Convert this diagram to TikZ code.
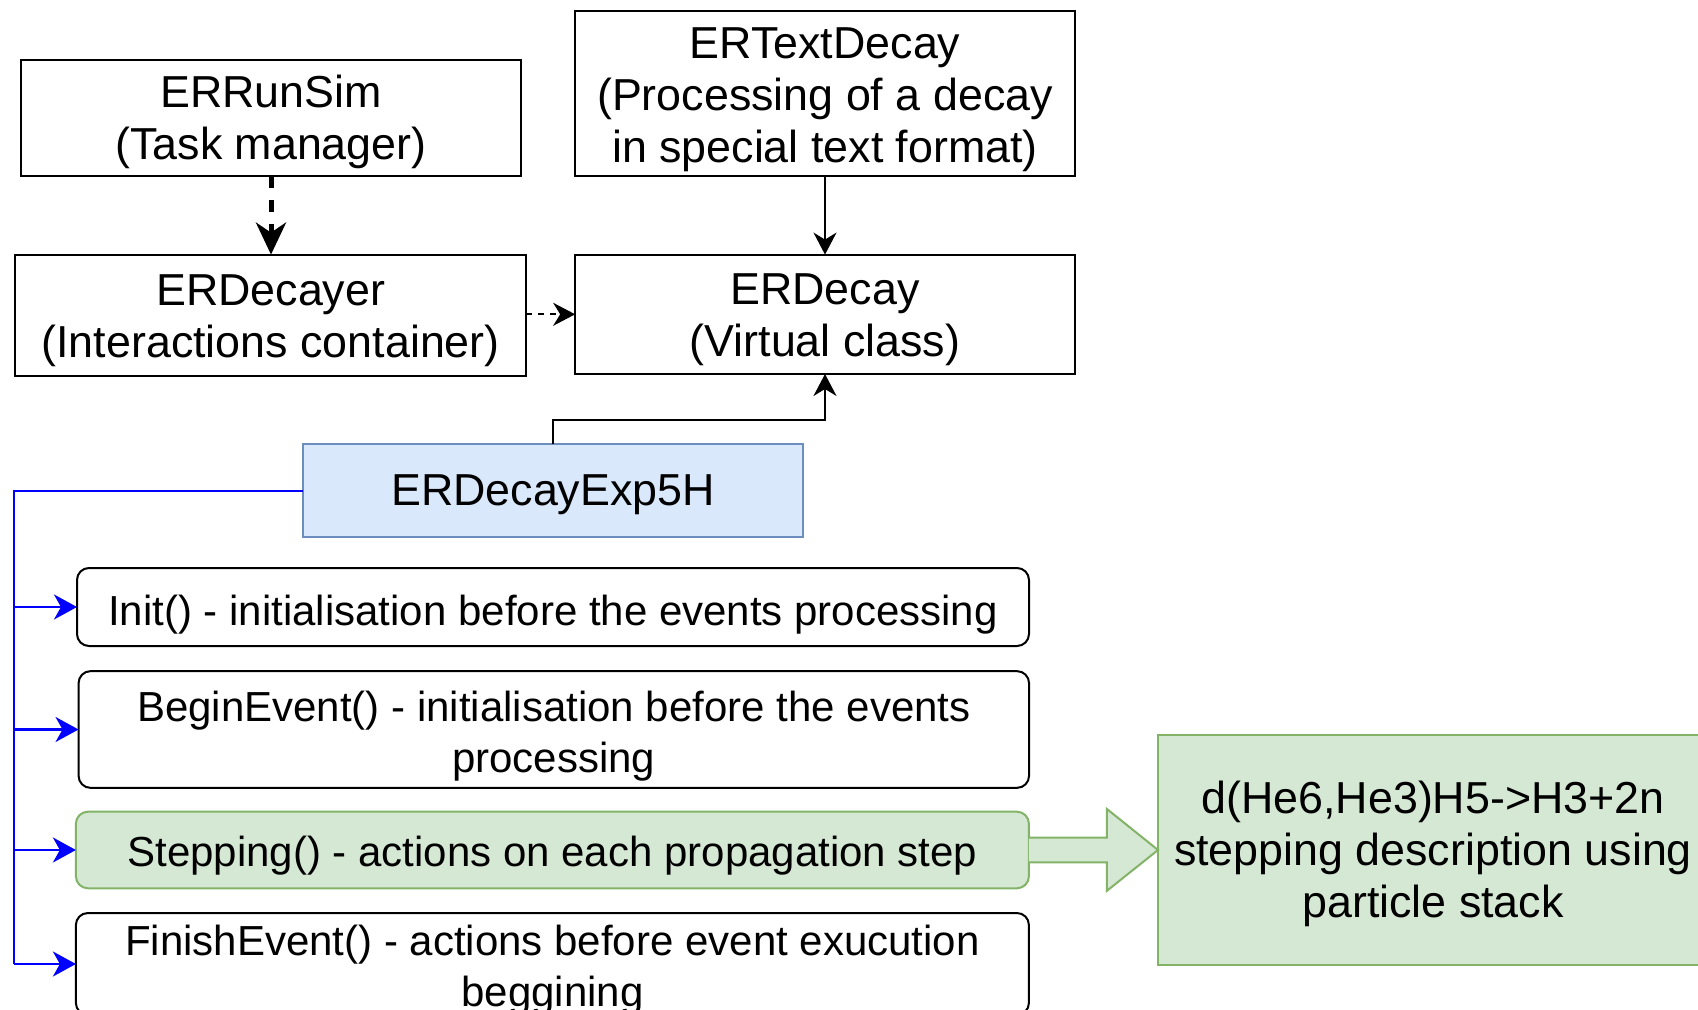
\documentclass[tikz,border=0pt]{standalone}
\usepackage{fontspec}
\setmainfont{Liberation Sans}
\usetikzlibrary{arrows.meta,calc}
\definecolor{bluefill}{HTML}{DAE8FC}
\definecolor{blueline}{HTML}{6C8EBF}
\definecolor{greenfill}{HTML}{D5E8D4}
\definecolor{greenline}{HTML}{82B366}
\definecolor{linkblue}{HTML}{0000FF}
% text block lowered by #1 inside its node, keeping the node's size
\newcommand\btext[2]{\raisebox{0pt}[\dimexpr\height+#1\relax][\dimexpr\depth-#1\relax]{\begin{tabular}{@{}c@{}}#2\end{tabular}}}
\tikzset{
  box/.style={draw=black, line width=1pt, inner sep=0pt, outer sep=0pt, align=center,
    font=\fontsize{22.4}{26}\selectfont},
  rbox/.style={box, rounded corners=6pt, font=\fontsize{21}{25.5}\selectfont},
  arr/.style={line width=1pt, -{Stealth[length=11pt,width=11.5pt,inset=3.5pt]}},
  thickdash/.style={line width=2.5pt, dash pattern=on 6pt off 6pt,
    -{Stealth[length=16pt,width=15pt,inset=5pt]}},
  thindash/.style={line width=1pt, dash pattern=on 3pt off 3pt,
    -{Stealth[length=11pt,width=11.5pt,inset=3.5pt]}},
  bl/.style={draw=linkblue, line width=1.2pt},
  barr/.style={bl, -{Stealth[length=11.5pt,width=12.5pt,inset=3.5pt]}},
}
\begin{document}
\begin{tikzpicture}[x=0.5pt,y=-0.5pt]
\useasboundingbox (0,0) rectangle (1698,1010);
\clip (0,0) rectangle (1698,1010);
\fill[white] (0,0) rectangle (1698,1010);

\node[box, minimum width=499.5*0.5pt, minimum height=116.4*0.5pt] (runsim) at (271,118.2)
  {\btext{2.7pt}{ERRunSim\\(Task manager)}};
\node[box, minimum width=499.7*0.5pt, minimum height=165.7*0.5pt] (textdecay) at (825,93.5)
  {\btext{3.1pt}{ERTextDecay\\(Processing of a decay\\in special text format)}};
\node[box, minimum width=510.6*0.5pt, minimum height=121.4*0.5pt] (decayer) at (270.7,315.3)
  {\btext{3.1pt}{ERDecayer\\(Interactions container)}};
\node[box, minimum width=499.7*0.5pt, minimum height=119.4*0.5pt] (decay) at (825,314.3)
  {\btext{3.1pt}{ERDecay\\(Virtual class)}};
\node[box, draw=blueline, fill=bluefill, minimum width=500*0.5pt, minimum height=93*0.5pt] (exp) at (553,491)
  {\btext{2.2pt}{ERDecayExp5H}};
\node[rbox, minimum width=952*0.5pt, minimum height=78*0.5pt] (init) at (553,607)
  {\btext{4pt}{Init() - initialisation before the events processing}};
\node[rbox, minimum width=950.5*0.5pt, minimum height=116.7*0.5pt] (begin) at (553.8,729.5)
  {\btext{3.5pt}{BeginEvent() - initialisation before the events\\processing}};
\node[rbox, draw=greenline, fill=greenfill, minimum width=953*0.5pt, minimum height=76.6*0.5pt] (step) at (552.4,850)
  {\btext{3.3pt}{Stepping() - actions on each propagation step}};
\node[rbox, minimum width=953*0.5pt, minimum height=98*0.5pt] (finish) at (552.4,964)
  {\btext{3.5pt}{FinishEvent() - actions before event exucution\\beggining}};
\node[box, draw=greenline, fill=greenfill, minimum width=550*0.5pt, minimum height=230*0.5pt] (stack) at (1433,850)
  {\btext{2.7pt}{d(He6,He3)H5->H3+2n\\stepping description using\\particle stack}};

% connectors
\draw[thickdash] (runsim.south) -- (decayer.north -| runsim.south);
\draw[thindash] (decayer.east |- decay.west) -- (decay.west);
\draw[arr] (textdecay.south) -- (decay.north);
\draw[arr] (exp.north) -- ++(0,-24) -| (decay.south);

% blue tree
\coordinate (trunk) at (14,0);
\draw[bl] (exp.west) -| (trunk |- finish.west);
\draw[barr] (trunk |- init.west) -- (init.west);
\draw[barr] (trunk |- begin.west) -- (begin.west);
\draw[barr] (trunk |- step.west) -- (step.west);
\draw[barr] (trunk |- finish.west) -- (finish.west);

% big arrow
\draw[draw=greenline, fill=greenfill, line width=1pt, line join=miter]
  ($(step.east)+(0,-12.4)$) -- ($(step.east |- 0,837.6)+(78,0)$) -- ++(0,-28.6)
  -- (stack.west) -- ($(step.east |- 0,890.8)+(78,0)$) -- ++(0,-28.4)
  -- ($(step.east)+(0,12.4)$);
\end{tikzpicture}
\end{document}
